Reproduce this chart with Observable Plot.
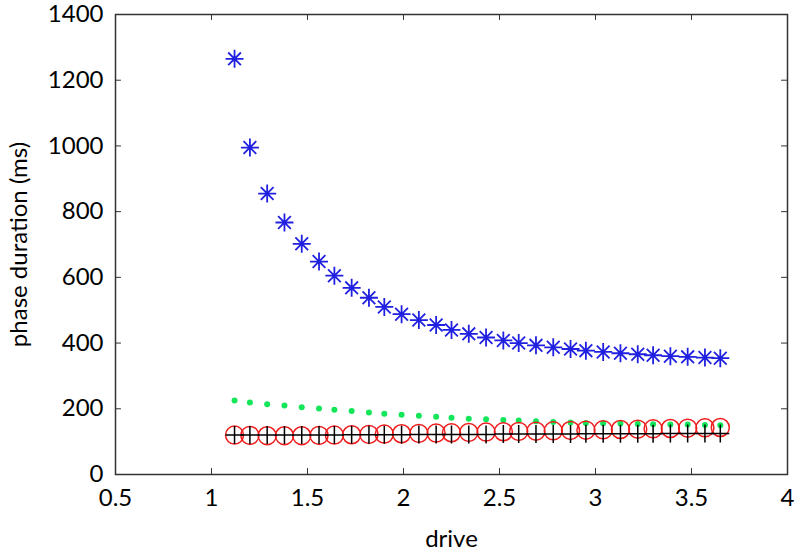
<!DOCTYPE html>
<html><head><meta charset="utf-8">
<script src="https://cdn.jsdelivr.net/npm/d3@7"></script>
<script src="https://cdn.jsdelivr.net/npm/@observablehq/plot@0.6"></script>
<style>body{margin:0;background:#fff;} svg{font-family:Lato,"Open Sans",sans-serif;} svg text{font-size:24px;}</style>
</head><body><div id="chart"></div>
<script>
const drive = [1.12,1.2,1.29,1.38,1.47,1.56,1.64,1.73,1.82,1.9,1.99,2.08,2.17,2.25,2.34,2.43,2.52,2.6,2.69,2.78,2.87,2.95,3.04,3.13,3.22,3.3,3.39,3.48,3.57,3.65];
const blueStar = [1265,995,855,767,702,648,605,568,538,510,488,470,455,440,428,417,408,400,393,387,382,377,373,369,366,363,360,358,356,354];
const greenDot = [225,219,214,210,205,201,197,193,189,185,182,179,176,173,170,168,166,164,162,160,158,157,156,155,154,153,152,152,151,150];
const redCircle = [120,119,118,118,118,119,120,121,122,123,124,125,126,127,128,129,130,131,132,133,134,135,136,137,138,139,140,141,142,143];
const blackPlus = [120,120,120,120,120,120,120,121,121,121,121,122,122,122,122,122,123,123,123,123,123,124,124,124,124,124,125,125,125,125];
const xTicks = [0.5,1,1.5,2,2.5,3,3.5,4];
const yTicks = [0,200,400,600,800,1000,1200,1400];

const star8 = {draw(ctx, size){const r=Math.sqrt(size/Math.PI);const d=r*Math.SQRT1_2;
  ctx.moveTo(0,-r);ctx.lineTo(0,r);ctx.moveTo(-r,0);ctx.lineTo(r,0);
  ctx.moveTo(-d,-d);ctx.lineTo(d,d);ctx.moveTo(-d,d);ctx.lineTo(d,-d);}};
const plus = {draw(ctx, size){const r=Math.sqrt(size/Math.PI);
  ctx.moveTo(0,-r);ctx.lineTo(0,r);ctx.moveTo(-r,0);ctx.lineTo(r,0);}};

const rows = drive.map((x,i)=>({x, b:blueStar[i], g:greenDot[i], r:redCircle[i], k:blackPlus[i]}));

const chart = Plot.plot({
  width: 800, height: 556,
  marginLeft: 115, marginRight: 13, marginTop: 14, marginBottom: 82,
  style: {fontSize: "24px", fontFamily: "Lato, sans-serif", color: "#000"},
  x: {domain: [0.5, 4]},
  y: {domain: [0, 1400]},
  marks: [
    Plot.axisX({ticks: xTicks, tickSize: 0, tickPadding: 14, tickFormat: d => String(d), label: "drive", labelAnchor: "center", labelArrow: "none", labelOffset: 72}),
    Plot.axisY({ticks: yTicks, tickSize: 0, tickPadding: 12, tickFormat: d => String(d), label: "phase duration (ms)", labelAnchor: "center", labelArrow: "none", labelOffset: 106}),
    Plot.ruleX(xTicks, {x: d => d, y1: 0, y2: 18, stroke: "#333"}),
    Plot.ruleX(xTicks, {x: d => d, y1: 1400, y2: 1382, stroke: "#333"}),
    Plot.ruleY(yTicks, {y: d => d, x1: 0.5, x2: 0.531, stroke: "#333"}),
    Plot.ruleY(yTicks, {y: d => d, x1: 4, x2: 3.969, stroke: "#333"}),
    Plot.frame({stroke: "#333", strokeWidth: 1.5}),
    Plot.dot(rows, {x: "x", y: "b", symbol: star8, r: 9, stroke: "#2020e0", fill: "none", strokeWidth: 1.8}),
    Plot.dot(rows, {x: "x", y: "g", r: 3, fill: "#14e65a", stroke: "none"}),
    Plot.dot(rows, {x: "x", y: "r", r: 9, stroke: "#ee1c1c", fill: "none", strokeWidth: 1.5}),
    Plot.dot(rows, {x: "x", y: "k", symbol: plus, r: 9, stroke: "#000", fill: "none", strokeWidth: 1.5})
  ]
});
document.getElementById("chart").append(chart);
</script></body></html>
